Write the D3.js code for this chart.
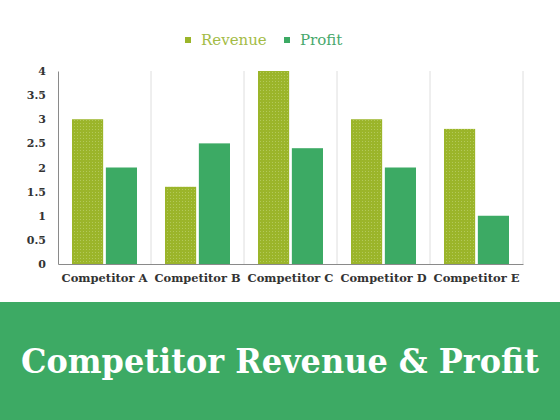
<!DOCTYPE html>
<html>
<head>
<meta charset="utf-8">
<script src="https://cdnjs.cloudflare.com/ajax/libs/d3/7.8.5/d3.min.js"></script>
<style>
  body { margin: 0; background: #fff; }
  svg { display: block; }
</style>
</head>
<body>
<div id="chart-area"></div>
<script>
// data
var competitors = ["Competitor A", "Competitor B", "Competitor C", "Competitor D", "Competitor E"];
var seriesNames = ["Revenue", "Profit"];
var revenue = [3, 1.6, 4, 3, 2.8];
var profit = [2, 2.5, 2.4, 2, 1];
var yTicks = [0, 0.5, 1, 1.5, 2, 2.5, 3, 3.5, 4];
var titleText = "Competitor Revenue & Profit";

var W = 560, H = 420;
var margin = { left: 58, right: 37, top: 71, bottom: 156 };
var width = W - margin.left - margin.right,
    height = H - margin.top - margin.bottom;

var serif = "'DejaVu Serif', 'Liberation Serif', serif";
var colors = { Revenue: "#9bb52a", Profit: "#3caa64" };
var legendText = { Revenue: "#a3bb45", Profit: "#47a86c" };

var svg = d3.select("#chart-area")
    .append("svg")
        .attr("width", W)
        .attr("height", H);

// dotted texture for the revenue bars
var defs = svg.append("defs");
var pat = defs.append("pattern")
    .attr("id", "dots")
    .attr("width", 3)
    .attr("height", 3)
    .attr("patternUnits", "userSpaceOnUse");
pat.append("rect").attr("width", 3).attr("height", 3).attr("fill", colors.Revenue);
pat.append("rect").attr("x", 1).attr("y", 1).attr("width", 1).attr("height", 1)
    .attr("fill", "#b3c95a");

var g = svg.append("g")
    .attr("transform", "translate(" + margin.left + "," + margin.top + ")");

// scales
var x0 = d3.scaleBand()
    .domain(competitors)
    .range([0, width])
    .padding(0);

var x1 = d3.scaleBand()
    .domain(seriesNames)
    .range([14, x0.bandwidth() - 14])
    .paddingInner(0.08);

var y = d3.scaleLinear()
    .domain([0, 4])
    .range([height, 0]);

// vertical separators between categories
g.selectAll(".sep")
    .data(competitors)
    .enter().append("line")
        .attr("class", "sep")
        .attr("x1", function(d){ return x0(d) + x0.bandwidth(); })
        .attr("x2", function(d){ return x0(d) + x0.bandwidth(); })
        .attr("y1", 0)
        .attr("y2", height)
        .attr("stroke", "#dedede")
        .attr("stroke-width", 1);

// bars
var rows = competitors.map(function(c, i){
    return { name: c, values: [
        { key: "Revenue", value: revenue[i] },
        { key: "Profit", value: profit[i] }
    ]};
});

var groups = g.selectAll(".grp")
    .data(rows)
    .enter().append("g")
        .attr("class", "grp")
        .attr("transform", function(d){ return "translate(" + x0(d.name) + ",0)"; });

groups.selectAll("rect")
    .data(function(d){ return d.values; })
    .enter().append("rect")
        .attr("x", function(d){ return x1(d.key); })
        .attr("width", x1.bandwidth())
        .attr("y", function(d){ return y(d.value); })
        .attr("height", function(d){ return height - y(d.value); })
        .attr("fill", function(d){ return d.key === "Revenue" ? "url(#dots)" : colors.Profit; });

// Y axis
var yAxisCall = d3.axisLeft(y)
    .tickValues(yTicks)
    .tickSize(0)
    .tickPadding(12)
    .tickFormat(function(d){ return d; });

var yAxisGroup = g.append("g")
    .attr("class", "y axis")
    .call(yAxisCall);
yAxisGroup.select(".domain").attr("stroke", "#8a8a8a");
yAxisGroup.selectAll("text")
    .attr("font-family", serif)
    .attr("font-weight", "bold")
    .attr("font-size", "11px")
    .attr("fill", "#333");

// X axis
var xAxisCall = d3.axisBottom(x0)
    .tickSize(0)
    .tickPadding(10);

var xAxisGroup = g.append("g")
    .attr("class", "x axis")
    .attr("transform", "translate(0," + height + ")")
    .call(xAxisCall);
xAxisGroup.select(".domain").attr("stroke", "#8a8a8a");
xAxisGroup.selectAll("text")
    .attr("font-family", serif)
    .attr("font-weight", "bold")
    .attr("font-size", "11px")
    .attr("fill", "#333")
    .attr("textLength", 86)
    .attr("lengthAdjust", "spacingAndGlyphs");

// legend
var legendX = { Revenue: 185, Profit: 284 };
var legend = svg.selectAll(".legend")
    .data(seriesNames)
    .enter().append("g")
        .attr("class", "legend")
        .attr("transform", function(d){ return "translate(" + legendX[d] + ",40)"; });
legend.append("rect")
    .attr("x", 0).attr("y", -3)
    .attr("width", 6).attr("height", 6)
    .attr("fill", function(d){ return colors[d]; });
legend.append("text")
    .attr("x", 16)
    .attr("dy", "0.35em")
    .attr("font-family", serif)
    .attr("font-size", "15px")
    .attr("fill", function(d){ return legendText[d]; })
    .text(function(d){ return d; });

// title banner
svg.append("rect")
    .attr("x", 0).attr("y", 302)
    .attr("width", W).attr("height", H - 302)
    .attr("fill", "#3daa64");

// title: squeeze horizontally so it spans ~520px like the reference
var titleG = svg.append("g");
var title = titleG.append("text")
    .attr("x", 0)
    .attr("y", 0)
    .attr("text-anchor", "middle")
    .attr("font-family", serif)
    .attr("font-weight", "bold")
    .attr("font-size", "34px")
    .attr("fill", "#fff")
    .text(titleText);
var natural = title.node().getComputedTextLength();
var sx = Math.min(1, 518 / natural);
titleG.attr("transform", "translate(" + (W / 2) + ",373) scale(" + sx + ",1)");
</script>
</body>
</html>
